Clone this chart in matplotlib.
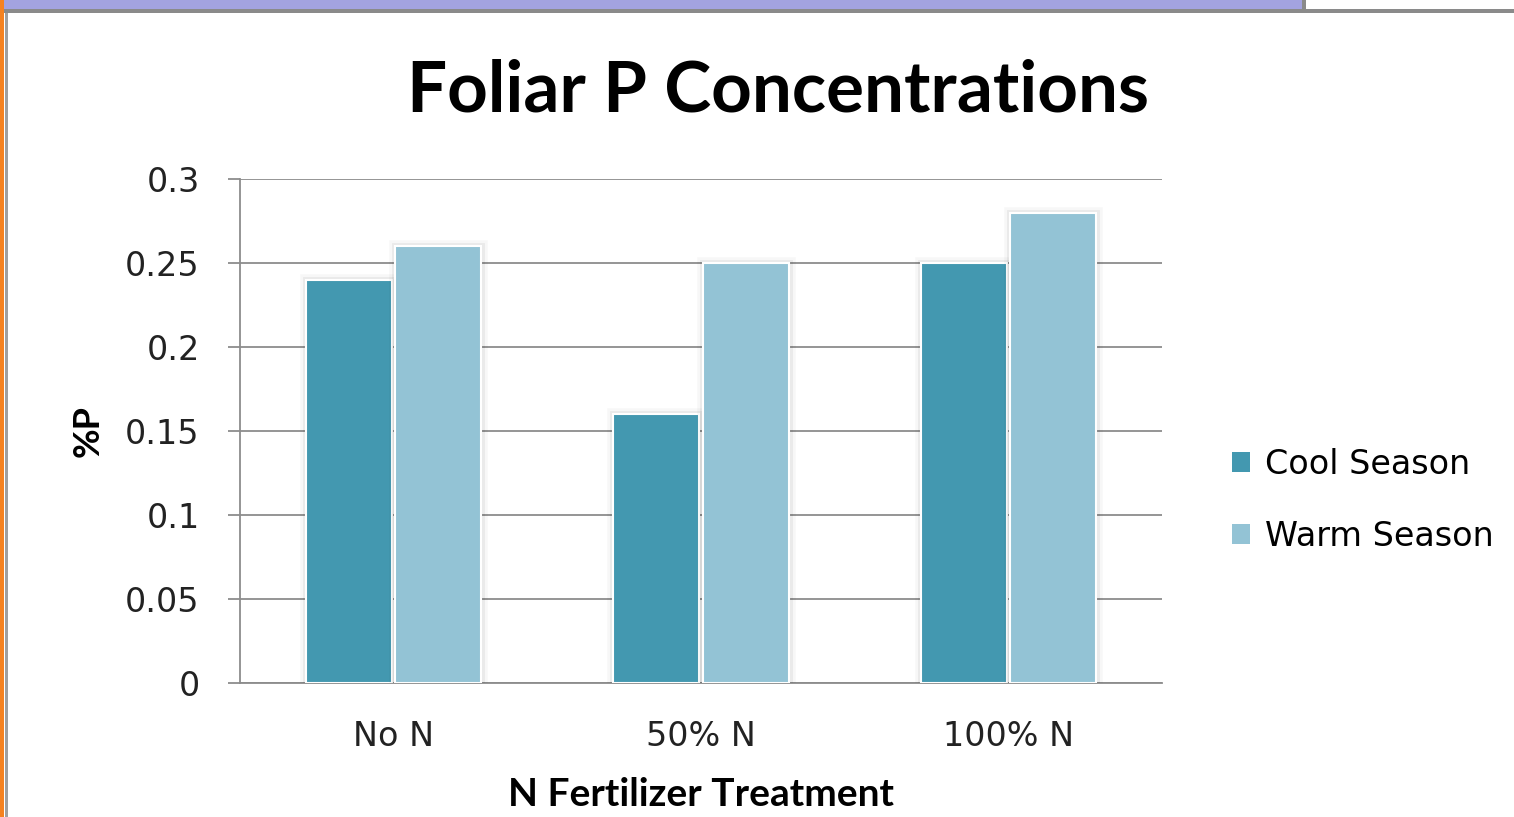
import matplotlib.pyplot as plt
import matplotlib.patheffects as pe
from matplotlib.patches import Rectangle
import numpy as np

categories = ['No N', '50% N', '100% N']
cool_season = [0.24, 0.16, 0.25]
warm_season = [0.26, 0.25, 0.28]
y_ticks = [0, 0.05, 0.1, 0.15, 0.2, 0.25, 0.3]
y_tick_labels = ['0', '0.05', '0.1', '0.15', '0.2', '0.25', '0.3']

plt.rcParams['font.family'] = ['DejaVu Sans']

W, H = 1514, 817
fig = plt.figure(figsize=(W / 100, H / 100), dpi=100)

# slide decoration around the chart
fig.patches.append(Rectangle((0, 1 - 10 / H), 1302 / W, 10 / H, transform=fig.transFigure,
                             facecolor='#a3a3e0', edgecolor='none'))
fig.patches.append(Rectangle((0, 1 - 13 / H), 1, 4 / H, transform=fig.transFigure,
                             facecolor='#8a8a8a', edgecolor='none'))
fig.patches.append(Rectangle((1302 / W, 1 - 10 / H), 4 / W, 10 / H, transform=fig.transFigure,
                             facecolor='#8a8a8a', edgecolor='none'))
fig.patches.append(Rectangle((0, 0), 4 / W, 1, transform=fig.transFigure,
                             facecolor='#f58220', edgecolor='none'))
fig.patches.append(Rectangle((5 / W, 0), 3 / W, 1 - 13 / H, transform=fig.transFigure,
                             facecolor='#a0a0a0', edgecolor='none'))

ax = fig.add_axes([240 / W, 1 - 683 / H, 922 / W, 504 / H])

x = np.arange(len(categories))
width = 0.28
glow = [pe.Stroke(linewidth=9, foreground='black', alpha=0.03),
        pe.Stroke(linewidth=5, foreground='black', alpha=0.05),
        pe.Normal()]
b1 = ax.bar(x - width / 2 - 0.005, cool_season, width, color='#4398b0', edgecolor='white',
            linewidth=1.5, label='Cool Season', zorder=3)
b2 = ax.bar(x + width / 2 + 0.005, warm_season, width, color='#93c3d5', edgecolor='white',
            linewidth=1.5, label='Warm Season', zorder=3)
for bar in list(b1) + list(b2):
    bar.set_path_effects(glow)

ax.set_xlim(-0.5, 2.5)
ax.set_ylim(0, 0.3)
ax.set_yticks(y_ticks)
ax.set_yticklabels(y_tick_labels, fontsize=24, color='#222222')
ax.set_xticks(x)
ax.set_xticklabels(categories, fontsize=24, color='#222222')
ax.tick_params(axis='y', length=9, color='#8c8c8c', width=1.3, pad=20)
ax.tick_params(axis='x', length=0, pad=27)
ax.yaxis.grid(True, color='#8c8c8c', linewidth=1.3, zorder=0)
ax.set_axisbelow(True)
for side in ['top', 'right']:
    ax.spines[side].set_visible(False)
for side in ['left', 'bottom']:
    ax.spines[side].set_color('#8c8c8c')
    ax.spines[side].set_linewidth(1.3)

ax.set_ylabel('%P', fontsize=26, fontweight='bold', family=['Lato', 'DejaVu Sans'], labelpad=15)
ax.set_xlabel('N Fertilizer Treatment', fontsize=28, fontweight='bold',
              family=['Lato', 'DejaVu Sans'], labelpad=17)
fig.text(778 / W, 1 - 112 / H, 'Foliar P Concentrations', fontsize=51, fontweight='bold',
         family=['Lato', 'DejaVu Sans'], ha='center', va='baseline')

leg = fig.legend(handles=[b1, b2], loc='center left', bbox_to_anchor=(1232 / W, 1 - 500 / H),
                 frameon=False, fontsize=24, handlelength=0.55, handleheight=0.55,
                 labelspacing=1.17, handletextpad=0.45, borderpad=0, borderaxespad=0)
for handle in leg.legend_handles:
    handle.set_path_effects([])
    handle.set_edgecolor('none')

fig.savefig('out.png', dpi=100, facecolor='white')
